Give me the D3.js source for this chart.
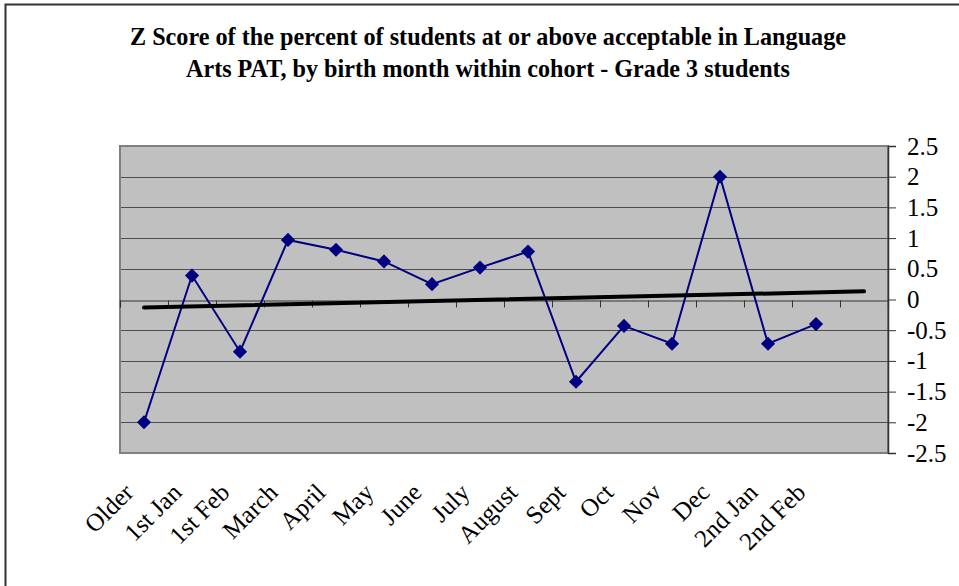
<!DOCTYPE html>
<html>
<head>
<meta charset="utf-8">
<script src="https://cdn.jsdelivr.net/npm/d3@7"></script>
<style>
  html, body { margin: 0; padding: 0; background: #fff; }
  svg { display: block; }
</style>
</head>
<body>
<div id="chart"></div>
<script>
// data
const categories = ['Older', '1st Jan', '1st Feb', 'March', 'April', 'May', 'June', 'July',
  'August', 'Sept', 'Oct', 'Nov', 'Dec', '2nd Jan', '2nd Feb'];
const zScores = [-2.0, 0.39, -0.85, 0.97, 0.81, 0.62, 0.25, 0.52, 0.78, -1.34, -0.43, -0.72, 2.0, -0.72, -0.40];
const yTicks = [-2.5, -2, -1.5, -1, -0.5, 0, 0.5, 1, 1.5, 2, 2.5];
const titleLines = [
  'Z Score of the percent of students at or above acceptable in Language',
  'Arts PAT, by birth month within cohort - Grade 3 students'
];
const slotCount = categories.length + 1; // one empty slot at the end of the axis
const forecastForward = 1;

const W = 959, H = 586;
const plot = { left: 120, right: 888, top: 146, bottom: 453 };
const serif = '"Liberation Serif", "Times New Roman", serif';

const svg = d3.select('#chart').append('svg')
  .attr('width', W)
  .attr('height', H);

// outer chart border (only top and left are visible in the picture)
svg.append('path')
  .attr('d', `M5.5,${H} V4.5 H${W}`)
  .attr('fill', 'none')
  .attr('stroke', '#333')
  .attr('stroke-width', 2);

// title
svg.append('g').selectAll('text')
  .data(titleLines)
  .join('text')
    .attr('x', 488)
    .attr('y', (d, i) => 45 + i * 32)
    .attr('text-anchor', 'middle')
    .attr('textLength', (d, i) => i === 0 ? 716 : 604)
    .attr('lengthAdjust', 'spacingAndGlyphs')
    .style('font-family', serif)
    .style('font-weight', 'bold')
    .style('font-size', '25.5px')
    .attr('fill', '#000')
    .text(d => d);

const x = d3.scaleLinear().domain([0, slotCount]).range([plot.left, plot.right]);
const y = d3.scaleLinear().domain([-2.5, 2.5]).range([plot.bottom, plot.top]);

// plot background
svg.append('rect')
  .attr('x', plot.left)
  .attr('y', plot.top)
  .attr('width', plot.right - plot.left)
  .attr('height', plot.bottom - plot.top)
  .attr('fill', '#c0c0c0')
  .attr('stroke', '#808080')
  .attr('stroke-width', 2);

// gridlines
svg.append('g')
  .selectAll('line')
  .data(yTicks.filter(t => t !== 0 && Math.abs(t) !== 2.5))
  .join('line')
    .attr('x1', plot.left + 1)
    .attr('x2', plot.right)
    .attr('y1', d => Math.round(y(d)) + 0.5)
    .attr('y2', d => Math.round(y(d)) + 0.5)
    .attr('stroke', '#4d4d4d')
    .attr('stroke-width', 1);

// category axis crossing at zero, ticks between categories
const xAxis = svg.append('g')
  .attr('transform', `translate(0,${Math.round(y(0)) + 0.5})`)
  .call(d3.axisBottom(x).tickValues(d3.range(0, slotCount + 1)).tickSize(7).tickFormat(''));
xAxis.select('.domain').attr('stroke', '#333').attr('stroke-width', 1.2);
xAxis.selectAll('.tick line').attr('stroke', '#333');

// rotated category labels
svg.append('g')
  .selectAll('text')
  .data(categories)
  .join('text')
    .attr('transform', (d, i) => `translate(${x(i + 0.5) - 9},494) rotate(-45)`)
    .attr('text-anchor', 'end')
    .style('font-family', serif)
    .style('font-size', '25px')
    .attr('fill', '#000')
    .text(d => d);

// value axis on the right
const yAxis = svg.append('g')
  .attr('transform', `translate(${plot.right},0)`)
  .call(d3.axisRight(y).tickValues(yTicks).tickSize(8).tickPadding(11).tickFormat(d => String(d)));
yAxis.select('.domain').attr('stroke', '#333').attr('stroke-width', 1.5);
yAxis.selectAll('.tick line').attr('stroke', '#333');
yAxis.selectAll('text')
  .style('font-family', serif)
  .style('font-size', '25px')
  .attr('fill', '#000');

// linear trendline over the series, forecast one period forward
const n = zScores.length;
const xs = d3.range(1, n + 1);
const mx = d3.mean(xs), my = d3.mean(zScores);
const slope = d3.sum(xs, (v, i) => (v - mx) * (zScores[i] - my)) / d3.sum(xs, v => (v - mx) ** 2);
const intercept = my - slope * mx;
const trendX = [1, n + forecastForward];

// series line
svg.append('path')
  .datum(zScores)
  .attr('fill', 'none')
  .attr('stroke', '#000080')
  .attr('stroke-width', 2)
  .attr('d', d3.line().x((d, i) => x(i + 0.5)).y(d => y(d)));

svg.append('path')
  .datum(trendX)
  .attr('fill', 'none')
  .attr('stroke', '#000')
  .attr('stroke-width', 4)
  .attr('stroke-linecap', 'round')
  .attr('d', d3.line().x(d => x(d - 0.5)).y(d => y(intercept + slope * d)));

// diamond markers
svg.append('g')
  .selectAll('path')
  .data(zScores)
  .join('path')
    .attr('transform', (d, i) => `translate(${x(i + 0.5)},${y(d)}) rotate(45)`)
    .attr('d', d3.symbol(d3.symbolSquare, 100))
    .attr('fill', '#000080');
</script>
</body>
</html>
